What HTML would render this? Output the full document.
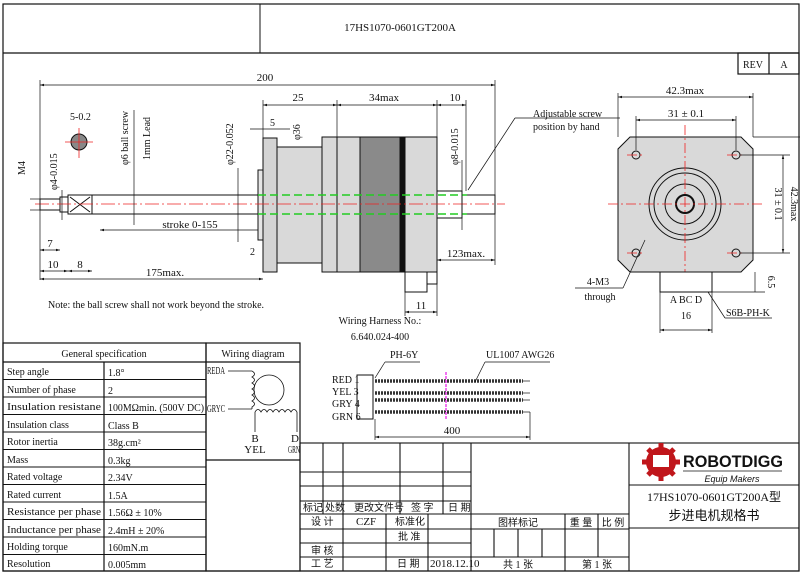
<!DOCTYPE html>
<html><head><meta charset="utf-8"><style>
html,body{margin:0;padding:0;background:#fff}
svg{display:block}
text{font-family:"Liberation Serif","Noto Serif CJK SC",serif;font-size:11px;fill:#111}
.s{font-size:10px}
.cj{font-family:"Liberation Serif","Noto Sans CJK SC",sans-serif;font-size:10px}
</style></head><body>
<svg width="800" height="575" viewBox="0 0 800 575" xmlns="http://www.w3.org/2000/svg">
<defs>
<marker id="a" viewBox="0 0 10 10" refX="10" refY="5" markerWidth="6" markerHeight="6" orient="auto-start-reverse"><path d="M0,2 L10,5 L0,8z" fill="#111"/></marker>
</defs>
<g stroke="#111" fill="none" stroke-width="1.2">
<rect x="3" y="4" width="796" height="567"/>
<line x1="3" y1="53" x2="799" y2="53"/>
<line x1="260" y1="4" x2="260" y2="53" stroke-width="1"/>
<rect x="738" y="53" width="61" height="21"/>
<line x1="769" y1="53" x2="769" y2="74"/>
</g>
<text x="400" y="31" text-anchor="middle" font-size="12">17HS1070-0601GT200A</text>
<text x="753" y="68" text-anchor="middle" class="s">REV</text>
<text x="784" y="68" text-anchor="middle" class="s">A</text>

<g stroke="#111" stroke-width="1">
<rect x="263" y="138" width="14" height="134" fill="#d4d4d4"/>
<rect x="258" y="170" width="5" height="70" fill="#e6e6e6"/>
<rect x="277" y="147" width="45" height="116" fill="#d9d9d9"/>
<rect x="322" y="137" width="15" height="135" fill="#d9d9d9"/>
<rect x="337" y="137" width="23" height="135" fill="#d9d9d9"/>
<rect x="360" y="137" width="40" height="135" fill="#8a8a8a"/>
<rect x="400" y="137" width="5" height="135" fill="#111"/>
<rect x="405" y="137" width="32" height="135" fill="#d9d9d9"/>
<rect x="405" y="272" width="22" height="20" fill="#fff"/>
<rect x="427" y="272" width="10" height="12" fill="#fff"/>
<rect x="40" y="199" width="20" height="11" fill="#fff"/>
<rect x="60" y="197" width="8" height="15" fill="#fff"/>
<rect x="68" y="195" width="24" height="19" fill="#fff"/>
<path d="M70,197 L90,212 M90,197 L70,212" fill="none"/>
<rect x="92" y="195" width="166" height="19" fill="#fff"/>
<rect x="437" y="191" width="25" height="27" fill="#fff"/>
<rect x="462" y="195" width="33" height="19" fill="#fff"/>
</g>
<g stroke="#2c2" stroke-width="1.5" stroke-dasharray="8,4" fill="none">
<line x1="258" y1="195" x2="467" y2="195"/><line x1="258" y1="214" x2="467" y2="214"/>
</g>
<line x1="35" y1="204" x2="505" y2="204" stroke="#e22" stroke-width="0.8" stroke-dasharray="14,3,2,3"/>
<circle cx="79" cy="142" r="8" fill="#888" stroke="#111"/>
<line x1="79" y1="128" x2="79" y2="158" stroke="#e22" stroke-width="0.8"/>
<line x1="65" y1="142" x2="93" y2="142" stroke="#e22" stroke-width="0.8"/>
<g stroke="#111" stroke-width="0.7" fill="none">
<line x1="40" y1="85" x2="495" y2="85" marker-start="url(#a)" marker-end="url(#a)"/>
<line x1="40" y1="80" x2="40" y2="280"/><line x1="495" y1="80" x2="495" y2="265"/>
<line x1="263" y1="105" x2="337" y2="105" marker-start="url(#a)" marker-end="url(#a)"/>
<line x1="337" y1="105" x2="437" y2="105" marker-start="url(#a)" marker-end="url(#a)"/>
<line x1="437" y1="105" x2="466" y2="105" marker-start="url(#a)" marker-end="url(#a)"/>
<line x1="263" y1="100" x2="263" y2="138"/><line x1="337" y1="100" x2="337" y2="137"/><line x1="437" y1="100" x2="437" y2="137"/><line x1="466" y1="100" x2="466" y2="191"/>
<line x1="250" y1="129" x2="290" y2="129"/>
<line x1="100" y1="230" x2="258" y2="230" marker-start="url(#a)"/>
<line x1="40" y1="250" x2="60" y2="250" marker-start="url(#a)" marker-end="url(#a)"/>
<line x1="40" y1="271" x2="68" y2="271" marker-start="url(#a)" marker-end="url(#a)"/>
<line x1="68" y1="271" x2="92" y2="271" marker-start="url(#a)" marker-end="url(#a)"/>
<line x1="40" y1="279" x2="263" y2="279" marker-start="url(#a)" marker-end="url(#a)"/>
<line x1="437" y1="260" x2="495" y2="260" marker-start="url(#a)" marker-end="url(#a)"/>
<line x1="405" y1="312" x2="437" y2="312" marker-start="url(#a)" marker-end="url(#a)"/>
<line x1="405" y1="292" x2="405" y2="316"/><line x1="437" y1="272" x2="437" y2="316"/>
<line x1="134" y1="110" x2="134" y2="225"/>
<line x1="238" y1="168" x2="238" y2="242"/>
<line x1="30" y1="199" x2="40" y2="199"/><line x1="30" y1="210" x2="40" y2="210"/>
<line x1="62" y1="190" x2="62" y2="220"/>
<line x1="462" y1="160" x2="462" y2="230"/>
<line x1="468" y1="190" x2="515" y2="118"/><line x1="515" y1="118" x2="620" y2="118"/>
</g>
<text x="265" y="81" text-anchor="middle">200</text>
<text x="298" y="101" text-anchor="middle">25</text>
<text x="384" y="101" text-anchor="middle">34max</text>
<text x="455" y="101" text-anchor="middle">10</text>
<text x="270" y="126" class="s">5</text>
<text x="190" y="228" text-anchor="middle">stroke 0-155</text>
<text x="50" y="247" text-anchor="middle">7</text>
<text x="53" y="268" text-anchor="middle">10</text>
<text x="80" y="268" text-anchor="middle">8</text>
<text x="165" y="276" text-anchor="middle">175max.</text>
<text x="466" y="257" text-anchor="middle">123max.</text>
<text x="421" y="309" text-anchor="middle">11</text>
<text x="250" y="255" class="s">2</text>
<text x="533" y="117" class="s">Adjustable screw</text>
<text x="533" y="130" class="s">position by hand</text>
<text x="48" y="308" class="s">Note: the ball screw shall not work beyond the stroke.</text>
<text x="380" y="324" text-anchor="middle" class="s">Wiring Harness No.:</text>
<text x="380" y="340" text-anchor="middle" class="s">6.640.024-400</text>
<text transform="translate(25,175) rotate(-90)" class="s">M4</text>
<text transform="translate(57,190) rotate(-90)" class="s">φ4-0.015</text>
<text transform="translate(128,165) rotate(-90)" class="s">φ6 ball screw</text>
<text transform="translate(150,160) rotate(-90)" class="s">1mm Lead</text>
<text transform="translate(233,165) rotate(-90)" class="s">φ22-0.052</text>
<text transform="translate(300,140) rotate(-90)" class="s">φ36</text>
<text transform="translate(458,165) rotate(-90)" class="s">φ8-0.015</text>
<text x="70" y="120" class="s">5-0.2</text>

<path d="M630,137 L741,137 L753,149 L753,260 L741,272 L630,272 L618,260 L618,149Z" fill="#d9d9d9" stroke="#111"/>
<g fill="none" stroke="#111">
<circle cx="685" cy="204" r="36"/><circle cx="685" cy="204" r="31"/><circle cx="685" cy="204" r="20"/><circle cx="685" cy="204" r="9" stroke-width="2"/>
<circle cx="636" cy="155" r="4"/><circle cx="736" cy="155" r="4"/><circle cx="636" cy="253" r="4"/><circle cx="736" cy="253" r="4"/>
</g>
<g stroke="#e22" stroke-width="0.8" stroke-dasharray="10,3,2,3">
<line x1="608" y1="204" x2="765" y2="204"/><line x1="685" y1="125" x2="685" y2="285"/>
<line x1="627" y1="155" x2="645" y2="155"/><line x1="727" y1="155" x2="745" y2="155"/><line x1="627" y1="253" x2="645" y2="253"/><line x1="727" y1="253" x2="745" y2="253"/>
</g>
<rect x="660" y="272" width="52" height="20" fill="#fff" stroke="#111"/>
<g stroke="#111" stroke-width="0.7" fill="none">
<line x1="618" y1="97" x2="753" y2="97" marker-start="url(#a)" marker-end="url(#a)"/>
<line x1="618" y1="93" x2="618" y2="137"/><line x1="753" y1="93" x2="753" y2="137"/>
<line x1="636" y1="120" x2="736" y2="120" marker-start="url(#a)" marker-end="url(#a)"/>
<line x1="636" y1="116" x2="636" y2="150"/><line x1="736" y1="116" x2="736" y2="150"/>
<line x1="783" y1="155" x2="783" y2="253" marker-start="url(#a)" marker-end="url(#a)"/>
<line x1="740" y1="155" x2="790" y2="155"/><line x1="740" y1="253" x2="790" y2="253"/>
<line x1="753" y1="137" x2="800" y2="137"/>
<line x1="660" y1="330" x2="712" y2="330" marker-start="url(#a)" marker-end="url(#a)"/>
<line x1="660" y1="292" x2="660" y2="333"/><line x1="712" y1="292" x2="712" y2="333"/>
<line x1="575" y1="288" x2="623" y2="288"/><line x1="623" y1="288" x2="645" y2="240"/>
<line x1="708" y1="292" x2="725" y2="318"/><line x1="725" y1="318" x2="772" y2="318"/>
<line x1="712" y1="292" x2="765" y2="292"/><line x1="755" y1="272" x2="755" y2="292"/>
</g>
<text x="685" y="94" text-anchor="middle">42.3max</text>
<text x="686" y="117" text-anchor="middle">31 ± 0.1</text>
<text transform="translate(775,204) rotate(90)" text-anchor="middle" class="s">31 ± 0.1</text>
<text transform="translate(791,204) rotate(90)" text-anchor="middle" class="s">42.3max</text>
<text x="598" y="285" text-anchor="middle" class="s">4-M3</text>
<text x="600" y="300" text-anchor="middle" class="s">through</text>
<text x="686" y="303" text-anchor="middle" class="s">A  BC  D</text>
<text x="686" y="319" text-anchor="middle" class="s">16</text>
<text x="726" y="316" class="s">S6B-PH-K</text>
<text transform="translate(768,282) rotate(90)" text-anchor="middle" class="s">6.5</text>

<rect x="357" y="375" width="16" height="44" fill="#fff" stroke="#111"/>
<g stroke="#333" stroke-width="3.5" stroke-dasharray="2,1">
<line x1="375" y1="381" x2="523" y2="381"/><line x1="375" y1="393" x2="523" y2="393"/><line x1="375" y1="400" x2="523" y2="400"/><line x1="375" y1="412" x2="523" y2="412"/>
</g>
<g stroke="#111" stroke-width="0.7" fill="none">
<line x1="523" y1="381" x2="530" y2="381"/><line x1="523" y1="393" x2="530" y2="393"/><line x1="523" y1="400" x2="530" y2="400"/><line x1="523" y1="412" x2="530" y2="412"/>
<line x1="375" y1="437" x2="530" y2="437" marker-start="url(#a)" marker-end="url(#a)"/>
<line x1="375" y1="419" x2="375" y2="440"/><line x1="530" y1="412" x2="530" y2="440"/>
<line x1="375" y1="378" x2="385" y2="362"/><line x1="385" y1="362" x2="420" y2="362"/>
<line x1="475" y1="382" x2="485" y2="362"/><line x1="485" y1="362" x2="550" y2="362"/>
</g>
<line x1="446" y1="372" x2="446" y2="420" stroke="#e4e" stroke-width="1.5" stroke-dasharray="3,1"/>
<text x="390" y="358" class="s">PH-6Y</text>
<text x="486" y="358" class="s">UL1007  AWG26</text>
<text x="332" y="383" class="s">RED 1</text><text x="332" y="395" class="s">YEL 3</text><text x="332" y="407" class="s">GRY 4</text><text x="332" y="420" class="s">GRN 6</text>
<text x="452" y="434" text-anchor="middle">400</text>

<g stroke="#111" stroke-width="1.2" fill="none">
<rect x="3" y="343" width="203" height="228"/>
<rect x="206" y="343" width="94" height="228"/>
<line x1="206" y1="362" x2="300" y2="362"/>
<line x1="206" y1="460" x2="300" y2="460"/>
<line x1="3" y1="362" x2="206" y2="362"/>
<line x1="104" y1="362" x2="104" y2="571"/>
</g>
<g stroke="#111" stroke-width="1">
<line x1="3" y1="379.5" x2="206" y2="379.5"/><line x1="3" y1="397" x2="206" y2="397"/><line x1="3" y1="414.5" x2="206" y2="414.5"/><line x1="3" y1="432" x2="206" y2="432"/><line x1="3" y1="449.5" x2="206" y2="449.5"/><line x1="3" y1="467" x2="206" y2="467"/><line x1="3" y1="484.5" x2="206" y2="484.5"/><line x1="3" y1="502" x2="206" y2="502"/><line x1="3" y1="519.5" x2="206" y2="519.5"/><line x1="3" y1="537" x2="206" y2="537"/><line x1="3" y1="554.5" x2="206" y2="554.5"/>
</g>
<text x="104" y="357" text-anchor="middle" class="s">General  specification</text>
<text x="253" y="357" text-anchor="middle" class="s">Wiring diagram</text>
<text x="7" y="375" class="s">Step angle</text><text x="108" y="376" class="s">1.8°</text>
<text x="7" y="393" class="s">Number of phase</text><text x="108" y="394" class="s">2</text>
<text x="7" y="410" class="s" textLength="94" lengthAdjust="spacingAndGlyphs">Insulation resistane</text><text x="108" y="411" class="s" textLength="96" lengthAdjust="spacingAndGlyphs">100MΩmin. (500V DC)</text>
<text x="7" y="428" class="s">Insulation class</text><text x="108" y="429" class="s">Class B</text>
<text x="7" y="445" class="s">Rotor inertia</text><text x="108" y="446" class="s">38g.cm²</text>
<text x="7" y="463" class="s">Mass</text><text x="108" y="464" class="s">0.3kg</text>
<text x="7" y="480" class="s">Rated voltage</text><text x="108" y="481" class="s">2.34V</text>
<text x="7" y="498" class="s">Rated current</text><text x="108" y="499" class="s">1.5A</text>
<text x="7" y="515" class="s" textLength="94" lengthAdjust="spacingAndGlyphs">Resistance per phase</text><text x="108" y="516" class="s">1.56Ω ± 10%</text>
<text x="7" y="533" class="s" textLength="94" lengthAdjust="spacingAndGlyphs">Inductance per phase</text><text x="108" y="534" class="s">2.4mH ± 20%</text>
<text x="7" y="550" class="s">Holding torque</text><text x="108" y="551" class="s">160mN.m</text>
<text x="7" y="567" class="s">Resolution</text><text x="108" y="568" class="s">0.005mm</text>
<g stroke="#111" stroke-width="0.8" fill="none">
<circle cx="269" cy="390" r="15"/>
<line x1="228" y1="371" x2="252" y2="371"/><line x1="228" y1="409" x2="252" y2="409"/>
<path d="M252,371 q5,3 0,6 q5,3 0,6 q5,3 0,6 q5,3 0,6 q5,3 0,6 q5,3 0,6 L252,409"/>
<path d="M255,412 q3,-5 6,0 q3,-5 6,0 q3,-5 6,0 q3,-5 6,0 q3,-5 6,0 q3,-5 6,0 q3,-5 6,0"/>
<line x1="255" y1="412" x2="255" y2="432"/><line x1="297" y1="412" x2="297" y2="432"/>
</g>
<text x="207" y="374" font-size="8" textLength="18" lengthAdjust="spacingAndGlyphs">REDA</text>
<text x="207" y="412" font-size="8" textLength="18" lengthAdjust="spacingAndGlyphs">GRYC</text>
<text x="255" y="442" text-anchor="middle" font-size="9">B</text><text x="255" y="453" text-anchor="middle" font-size="9">YEL</text>
<text x="291" y="442" font-size="9">D</text><text x="288" y="453" font-size="9" textLength="12" lengthAdjust="spacingAndGlyphs">GRN</text>

<g stroke="#111" stroke-width="1.1" fill="none">
<rect x="300" y="443" width="499" height="128"/>
<line x1="629" y1="443" x2="629" y2="571"/>
<line x1="471" y1="443" x2="471" y2="571"/>
<line x1="629" y1="485" x2="799" y2="485"/><line x1="629" y1="528" x2="799" y2="528"/>
<line x1="300" y1="472" x2="471" y2="472"/><line x1="300" y1="486" x2="471" y2="486"/><line x1="300" y1="501" x2="471" y2="501"/><line x1="300" y1="514" x2="629" y2="514"/>
<line x1="300" y1="529" x2="471" y2="529"/><line x1="300" y1="543" x2="471" y2="543"/><line x1="300" y1="557" x2="629" y2="557"/>
<line x1="471" y1="529" x2="629" y2="529"/>
<line x1="323" y1="443" x2="323" y2="514"/><line x1="343" y1="443" x2="343" y2="571"/><line x1="400" y1="443" x2="400" y2="514"/><line x1="443" y1="443" x2="443" y2="514"/>
<line x1="386" y1="514" x2="386" y2="571"/><line x1="428" y1="514" x2="428" y2="571"/>
<line x1="494" y1="529" x2="494" y2="557"/><line x1="518" y1="529" x2="518" y2="557"/><line x1="542" y1="529" x2="542" y2="557"/>
<line x1="565" y1="514" x2="565" y2="571"/><line x1="598" y1="514" x2="598" y2="557"/>
</g>
<text x="303" y="511" class="cj" font-size="9">标记</text><text x="325" y="511" class="cj" font-size="9">处数</text><text x="354" y="511" class="cj" font-size="9">更改文件号</text><text x="411" y="511" class="cj" font-size="9">签 字</text><text x="448" y="511" class="cj" font-size="9">日 期</text>
<text x="311" y="525" class="cj" font-size="9">设 计</text><text x="356" y="525" font-size="10">CZF</text><text x="395" y="525" class="cj" font-size="9">标准化</text>
<text x="398" y="540" class="cj" font-size="9">批 准</text>
<text x="311" y="554" class="cj" font-size="9">审 核</text>
<text x="311" y="567" class="cj" font-size="9">工 艺</text><text x="397" y="567" class="cj" font-size="9">日 期</text><text x="430" y="567" font-size="9">2018.12.10</text>
<text x="518" y="526" class="cj" text-anchor="middle" font-size="9">图样标记</text><text x="581" y="526" class="cj" text-anchor="middle" font-size="9">重 量</text><text x="613" y="526" class="cj" text-anchor="middle" font-size="9">比 例</text>
<text x="518" y="568" class="cj" text-anchor="middle" font-size="9">共 1 张</text><text x="597" y="568" class="cj" text-anchor="middle" font-size="9">第 1 张</text>
<g fill="#c0161b">
<circle cx="661" cy="462" r="15"/>
<g stroke="#c0161b" stroke-width="5"><line x1="661" y1="443" x2="661" y2="481"/><line x1="642" y1="462" x2="680" y2="462"/><line x1="648" y1="449" x2="674" y2="475"/><line x1="674" y1="449" x2="648" y2="475"/></g>
</g>
<rect x="653" y="455" width="16" height="12" fill="#fff"/>
<text x="683" y="467" textLength="100" lengthAdjust="spacingAndGlyphs" style="font-family:'Liberation Sans',sans-serif;font-size:17px;font-weight:bold">ROBOTDIGG</text>
<line x1="683" y1="471" x2="782" y2="471" stroke="#111" stroke-width="0.7"/>
<text x="732" y="482" text-anchor="middle" style="font-family:'Liberation Sans',sans-serif;font-style:italic;font-size:9px">Equip Makers</text>
<text x="714" y="501" text-anchor="middle" style="font-size:12px;font-family:'Liberation Serif','Noto Sans CJK SC',serif">17HS1070-0601GT200A型</text>
<text x="714" y="520" text-anchor="middle" class="cj" style="font-size:13px">步进电机规格书</text>
</svg>
</body></html>
